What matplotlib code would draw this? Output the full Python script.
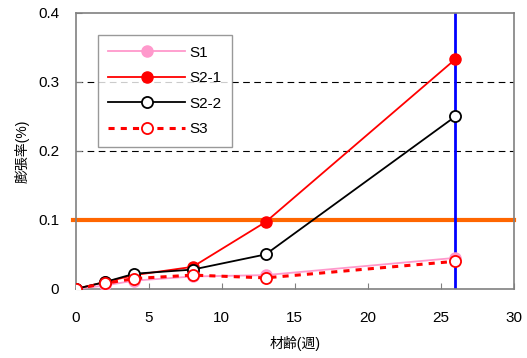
import matplotlib.pyplot as plt

plt.rcParams['font.family'] = ['Liberation Sans', 'Noto Sans CJK JP', 'DejaVu Sans']

# 材齢(週)
weeks = [0, 2, 4, 8, 13, 26]

# 膨張率(%)
s1 = [0.0, 0.005, 0.012, 0.018, 0.020, 0.045]
s2_1 = [0.0, 0.010, 0.020, 0.032, 0.097, 0.333]
s2_2 = [0.0, 0.010, 0.022, 0.028, 0.050, 0.250]
s3 = [0.0, 0.008, 0.015, 0.020, 0.016, 0.040]

limit_y = 0.1
limit_x = 26

fig = plt.figure(figsize=(5.27, 3.58), dpi=100)
ax = fig.add_axes([0.144, 0.193, 0.831, 0.771])

for y in [0.1, 0.2, 0.3]:
    ax.axhline(y, color='black', lw=0.8, ls=(0, (6, 4)), zorder=1)

ax.axhline(limit_y, xmin=-0.007, xmax=1.0, color='#ff6600', lw=3, zorder=2, clip_on=False)
ax.plot([limit_x, limit_x], [0.003, 0.4], color='#0000ff', lw=2, zorder=2)

ax.plot(weeks, s1, color='#ff99cc', lw=1.3, marker='o', ms=8,
        mfc='#ff99cc', mec='#ff99cc', label='S1', zorder=3)
ax.plot(weeks, s2_1, color='red', lw=1.3, marker='o', ms=8,
        mfc='red', mec='red', label='S2-1', zorder=4)
ax.plot(weeks, s2_2, color='black', lw=1.3, marker='o', ms=8,
        mfc='white', mec='black', mew=1.3, label='S2-2', zorder=5)
ax.plot(weeks, s3, color='red', lw=2.2, ls=(0, (2, 2)), marker='o', ms=8,
        mfc='white', mec='red', mew=1.3, label='S3', zorder=6)

ax.set_xlim(0, 30)
ax.set_ylim(0, 0.4)
ax.set_xticks([0, 5, 10, 15, 20, 25, 30])
ax.set_yticks([0, 0.1, 0.2, 0.3, 0.4])
ax.set_yticklabels(['0', '0.1', '0.2', '0.3', '0.4'])
ax.tick_params(axis='x', direction='in', length=4, color='#808080', labelsize=11, pad=16)
ax.tick_params(axis='y', direction='in', length=4, color='#808080', labelsize=11, pad=12)
for sp in ax.spines.values():
    sp.set_color('#808080')
    sp.set_linewidth(1.2)

ax.set_xlabel('材齢(週)', fontsize=10, labelpad=8)
ax.set_ylabel('膨張率(%)', fontsize=10, labelpad=6)

leg = ax.legend(loc='upper left', bbox_to_anchor=(0.05, 0.92), borderaxespad=0,
                fontsize=11, frameon=True, fancybox=False, edgecolor='#808080',
                handlelength=5.0, labelspacing=0.75, borderpad=0.7, handletextpad=0.3)
leg.get_frame().set_linewidth(1.0)

fig.savefig('out.png', dpi=100)
